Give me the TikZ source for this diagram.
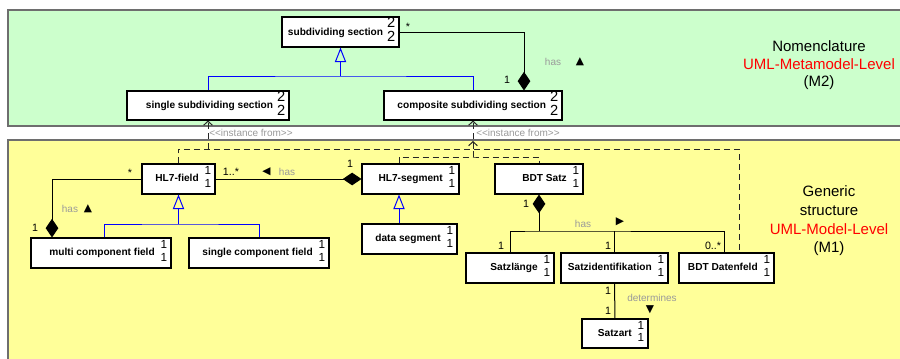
\documentclass[tikz,border=0pt]{standalone}
\usepackage{fontspec}
\setmainfont{Liberation Sans}
\newfontfamily\symfont{DejaVu Sans}
\usetikzlibrary{arrows.meta}
\definecolor{mgreen}{HTML}{CCFFCC}
\definecolor{myellow}{HTML}{FFFF99}
\definecolor{mborder}{HTML}{6E6E6E}
\definecolor{lblgray}{HTML}{9A9A9A}
\definecolor{genblue}{HTML}{0000FF}
\newcommand\nums[4]{{\fontsize{#1}{#2}\selectfont\begin{tabular}{@{}c@{}}#3\\#4\end{tabular}}}
\tikzset{
  umlbox/.style={draw=black, fill=white, line width=0.8pt, inner sep=0pt},
  boxtext/.style={anchor=east, inner sep=0pt, font=\fontsize{7.6}{9}\selectfont},
  panel/.style={draw=mborder, line width=1.5pt},
  paneltext/.style={align=center, inner sep=0pt},
  bline/.style={draw=genblue, line width=0.75pt},
  gen/.style={draw=genblue, line width=0.75pt, -{Triangle[open, length=11pt, width=8.5pt]}},
  comp/.style={draw=black, line width=0.75pt, -{Diamond[length=14pt, width=9.5pt]}},
  plainline/.style={draw=black, line width=0.75pt},
  dep/.style={draw=black!85, line width=0.75pt, dash pattern=on 4.5pt off 3pt},
  deparrow/.style={dep, -{Straight Barb[length=3pt, width=6.5pt]}},
  mult/.style={inner sep=0pt, font=\fontsize{8}{9}\selectfont},
  glabel/.style={inner sep=0pt, text=lblgray, font=\fontsize{7.5}{9}\selectfont},
  tri/.style={inner sep=0pt, font=\symfont\fontsize{8}{9}\selectfont},
}
\newcommand\gbox[6]{%
  \node[umlbox, minimum width={(#4-#2)*0.75pt}, minimum height={(#5-#3)*0.75pt}] (#1) at ({(#2+#4)/2},{(#3+#5)/2}) {};
  \node[boxtext] (#1-t) at ([xshift=-3pt,yshift=0.3pt]#1.east) {\textbf{#6}\hspace{3pt}\nums{11}{10.2}{2}{2}};
}
\newcommand\ybox[6]{%
  \node[umlbox, minimum width={(#4-#2)*0.75pt}, minimum height={(#5-#3)*0.75pt}] (#1) at ({(#2+#4)/2},{(#3+#5)/2}) {};
  \node[boxtext] (#1-t) at ([xshift=-3pt,yshift=0.3pt]#1.east) {\textbf{#6}\hspace{4.5pt}\nums{8.8}{9.3}{1}{1}};
}
\begin{document}
\begin{tikzpicture}[x=0.75pt, y=-0.75pt]
\useasboundingbox (0,0) rectangle (900,358);
\fill[white] (0,0) rectangle (900,358);
% panels
\draw[panel, fill=mgreen] (8,10) rectangle (906,126);
\draw[panel, fill=myellow] (8,140) rectangle (906,366);
\node[paneltext, font=\fontsize{11.25}{13.2}\selectfont] (m2) at (819,65.5) {Nomenclature\\\textcolor{red}{UML-Metamodel-Level}\\(M2)};
\node[paneltext, font=\fontsize{11.25}{14}\selectfont] (m1) at (829,221) {Generic\\structure\\\textcolor{red}{UML-Model-Level}\\(M1)};
% boxes
\gbox{ss}{282}{17}{399}{47}{subdividing section}
\gbox{sss}{127}{91}{289}{120}{single subdividing section}
\gbox{css}{384}{91}{562}{120}{composite subdividing section}
\ybox{hf}{142}{164}{215}{194}{HL7-field}
\ybox{hs}{362}{164}{459}{194}{HL7-segment}
\ybox{bs}{495}{164}{583}{194}{BDT Satz}
\ybox{ds}{362}{224}{457}{254}{data segment}
\ybox{mcf}{31}{238}{171}{268}{multi component field}
\ybox{scf}{189}{238}{329}{268}{single component field}
\ybox{sl}{466}{253}{554}{283}{Satzlänge}
\ybox{si}{561}{253}{668}{283}{Satzidentifikation}
\ybox{bd}{679}{253}{774}{283}{BDT Datenfeld}
\ybox{sa}{582}{319}{648}{348}{Satzart}
% M2 connectors
\coordinate (g1) at (ss.south |- 0,76);
\draw[bline] (sss.north) |- (g1) -| (css.north);
\draw[gen] (g1) -- (ss.south);
\draw[comp] (ss.east) -| (css.north -| 524,0);
\node[mult] (l1) at (408,27) {*};
\node[mult] (l2) at (507,80) {1};
\node[glabel] (l3) at (553,62) {has};
\node[tri] (t1) at (580,62) {▲};
% M1 connectors
\coordinate (g2) at (hf.south |- 0,224);
\draw[bline] (mcf.north -| 104,0) |- (g2) -| (scf.north);
\draw[gen] (g2) -- (hf.south);
\draw[comp] (hf.west) -| (mcf.north -| 52,0);
\draw[comp] (hf.east) -- (hs.west);
\draw[gen] (ds.north -| 399,0) -- (hs.south -| 399,0);
\node[mult] (l4) at (130,173) {*};
\node[mult] (l5) at (35,228) {1};
\node[glabel] (l6) at (70,209) {has};
\node[tri] (t2) at (88,209) {▲};
\node[mult] (l7) at (231,172) {1..*};
\node[tri] (t3) at (266.5,172) {◀};
\node[glabel] (l8) at (287,172) {has};
\node[mult] (l9) at (350,164) {1};
\coordinate (g3) at (bs.south |- 0,231);
\draw[plainline] (sl.north) |- (g3) -| (bd.north -| 724,0);
\draw[plainline] (g3 -| si.north) -- (si.north);
\draw[comp] (g3) -- (bs.south);
\draw[plainline] (si.south) -- (sa.north);
\node[mult] (l10) at (526,204) {1};
\node[glabel] (l11) at (583,224) {has};
\node[tri] (t4) at (620,222) {▶};
\node[mult] (l12) at (501,246) {1};
\node[mult] (l13) at (608,246) {1};
\node[mult] (l14) at (713,246) {0..*};
\node[mult] (l15) at (608,291) {1};
\node[mult] (l16) at (608,311) {1};
\node[glabel] (l17) at (652,298) {determines};
\node[tri] (t5) at (650,310) {▼};
% instance-from dependencies
\coordinate (d1) at (739,149);
\coordinate (d2) at (473,157);
\draw[dep] (hf.north) |- (d1) -- (bd.north -| d1);
\draw[deparrow] (sss.south |- d1) -- (sss.south);
\draw[deparrow] (css.south |- d1) -- (css.south);
\draw[dep] (hs.north -| 399,0) |- (d2) -| (bs.north);
\draw[deparrow] (d2) -- (css.south |- 0,141);
\node[glabel, anchor=west] (i1) at (209,133) {<{}<instance from>{}>};
\node[glabel, anchor=west] (i2) at (476,133) {<{}<instance from>{}>};
\end{tikzpicture}
\end{document}
